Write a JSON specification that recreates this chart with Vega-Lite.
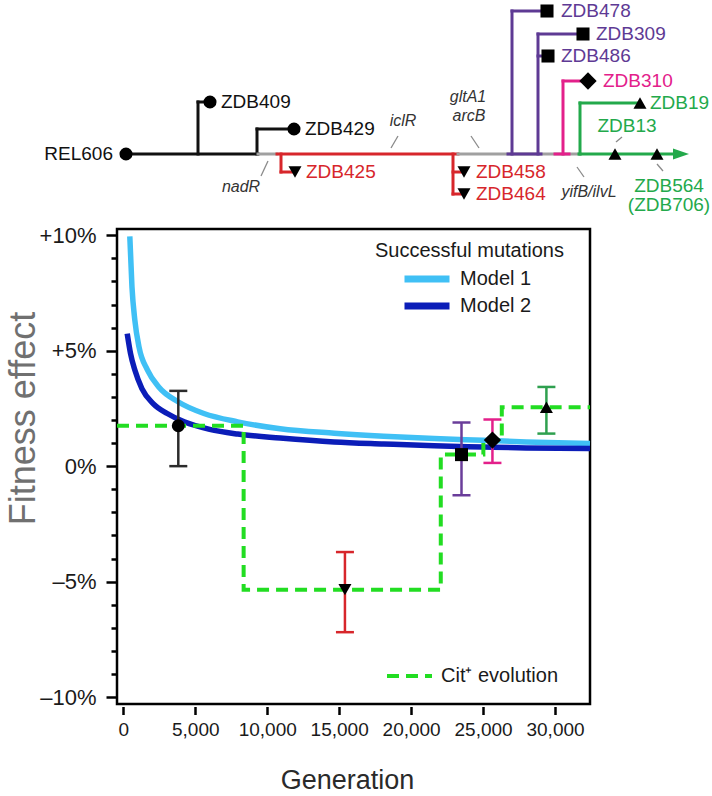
{
  "$schema": "https://vega.github.io/schema/vega-lite/v6.json",
  "padding": {"left": 3, "top": 0, "right": 0, "bottom": 0},
  "config": {
    "font": "Liberation Sans",
    "view": {"stroke": null},
    "legend": {"labelFont": "Liberation Sans", "titleFont": "Liberation Sans", "labelColor": "#1a1a1a", "titleColor": "#1a1a1a"}
  },
  "datasets": {
    "segments": [
      {"lin": "black", "x": 125, "y": 150, "x2": 257, "y2": 150},
      {"lin": "black", "x": 197, "y": 150, "x2": 197, "y2": 98},
      {"lin": "black", "x": 197, "y": 98, "x2": 209, "y2": 98},
      {"lin": "black", "x": 256, "y": 150, "x2": 256, "y2": 125},
      {"lin": "black", "x": 256, "y": 125, "x2": 293, "y2": 125},
      {"lin": "gray", "x": 257, "y": 150, "x2": 276, "y2": 150},
      {"lin": "red", "x": 276, "y": 150, "x2": 457, "y2": 150},
      {"lin": "red", "x": 280, "y": 150, "x2": 280, "y2": 168},
      {"lin": "red", "x": 280, "y": 168, "x2": 292, "y2": 168},
      {"lin": "red", "x": 452, "y": 150, "x2": 452, "y2": 190},
      {"lin": "red", "x": 452, "y": 168, "x2": 461, "y2": 168},
      {"lin": "red", "x": 452, "y": 190, "x2": 461, "y2": 190},
      {"lin": "gray", "x": 457, "y": 150, "x2": 579, "y2": 150},
      {"lin": "purple", "x": 507, "y": 150, "x2": 540, "y2": 150},
      {"lin": "purple", "x": 511, "y": 150, "x2": 511, "y2": 7},
      {"lin": "purple", "x": 511, "y": 7, "x2": 545, "y2": 7},
      {"lin": "purple", "x": 537, "y": 150, "x2": 537, "y2": 30},
      {"lin": "purple", "x": 537, "y": 30, "x2": 582, "y2": 30},
      {"lin": "purple", "x": 537, "y": 52, "x2": 546, "y2": 52},
      {"lin": "pink", "x": 554, "y": 150, "x2": 568, "y2": 150},
      {"lin": "pink", "x": 562, "y": 150, "x2": 562, "y2": 77},
      {"lin": "pink", "x": 562, "y": 77, "x2": 585, "y2": 77},
      {"lin": "green", "x": 578, "y": 150, "x2": 676, "y2": 150},
      {"lin": "green", "x": 579, "y": 150, "x2": 579, "y2": 99},
      {"lin": "green", "x": 579, "y": 99, "x2": 639, "y2": 99}
    ],
    "geneTicks": [
      {"x": 260, "y": 172, "x2": 267, "y2": 157},
      {"x": 390, "y": 144, "x2": 397, "y2": 132},
      {"x": 470, "y": 132, "x2": 478, "y2": 144},
      {"x": 576, "y": 163, "x2": 583, "y2": 173},
      {"x": 615, "y": 138, "x2": 621, "y2": 133},
      {"x": 656, "y": 160, "x2": 662, "y2": 167}
    ],
    "nodes": [
      {"name": "REL606", "clade": "A", "x": 125, "y": 150},
      {"name": "ZDB409", "clade": "A", "x": 209, "y": 98},
      {"name": "ZDB429", "clade": "A", "x": 293, "y": 125},
      {"name": "ZDB425", "clade": "B", "x": 294, "y": 168},
      {"name": "ZDB458", "clade": "B", "x": 463, "y": 168},
      {"name": "ZDB464", "clade": "B", "x": 463, "y": 190},
      {"name": "ZDB478", "clade": "C", "x": 546, "y": 7},
      {"name": "ZDB309", "clade": "C", "x": 582, "y": 30},
      {"name": "ZDB486", "clade": "C", "x": 547, "y": 52},
      {"name": "ZDB310", "clade": "D", "x": 587, "y": 77},
      {"name": "ZDB19", "clade": "E", "x": 639, "y": 99},
      {"name": "ZDB13", "clade": "E", "x": 614, "y": 150},
      {"name": "ZDB564", "clade": "E", "x": 656, "y": 150}
    ],
    "arrow": [{"x": 680, "y": 150}],
    "labelsLeft": [
      {"text": "ZDB409", "lin": "black", "x": 220, "y": 98},
      {"text": "ZDB429", "lin": "black", "x": 304, "y": 125},
      {"text": "ZDB425", "lin": "red", "x": 305, "y": 168},
      {"text": "ZDB458", "lin": "red", "x": 475, "y": 168},
      {"text": "ZDB464", "lin": "red", "x": 475, "y": 190},
      {"text": "ZDB478", "lin": "purple", "x": 560, "y": 7},
      {"text": "ZDB309", "lin": "purple", "x": 595, "y": 30},
      {"text": "ZDB486", "lin": "purple", "x": 560, "y": 52},
      {"text": "ZDB310", "lin": "pink", "x": 602, "y": 77},
      {"text": "ZDB19", "lin": "green", "x": 649, "y": 99}
    ],
    "labelsCenter": [
      {"text": "ZDB13", "lin": "green", "x": 626, "y": 122},
      {"text": "ZDB564", "lin": "green", "x": 668, "y": 182},
      {"text": "(ZDB706)", "lin": "green", "x": 668, "y": 201}
    ],
    "labelsRight": [
      {"text": "REL606", "lin": "black", "x": 112, "y": 150}
    ],
    "genes": [
      {"text": "nadR", "x": 240, "y": 183},
      {"text": "iclR", "x": 402, "y": 117},
      {"text": "gltA1", "x": 467, "y": 93},
      {"text": "arcB", "x": 468, "y": 112},
      {"text": "yifB/ilvL", "x": 588, "y": 188}
    ],
    "models": [
      {"model": "Model 1", "gen": 450, "eff": 9.95},
      {"model": "Model 1", "gen": 600, "eff": 7.76},
      {"model": "Model 1", "gen": 800, "eff": 6.32},
      {"model": "Model 1", "gen": 1090, "eff": 5.16},
      {"model": "Model 1", "gen": 1680, "eff": 4.16},
      {"model": "Model 1", "gen": 2460, "eff": 3.43},
      {"model": "Model 1", "gen": 3830, "eff": 2.78},
      {"model": "Model 1", "gen": 5600, "eff": 2.28},
      {"model": "Model 1", "gen": 7950, "eff": 1.92},
      {"model": "Model 1", "gen": 10900, "eff": 1.62},
      {"model": "Model 1", "gen": 14650, "eff": 1.43},
      {"model": "Model 1", "gen": 18100, "eff": 1.3},
      {"model": "Model 1", "gen": 21600, "eff": 1.2},
      {"model": "Model 1", "gen": 25000, "eff": 1.12},
      {"model": "Model 1", "gen": 28000, "eff": 1.05},
      {"model": "Model 1", "gen": 32430, "eff": 0.98},
      {"model": "Model 2", "gen": 270, "eff": 5.74},
      {"model": "Model 2", "gen": 500, "eff": 4.88},
      {"model": "Model 2", "gen": 800, "eff": 4.16},
      {"model": "Model 2", "gen": 1290, "eff": 3.36},
      {"model": "Model 2", "gen": 2070, "eff": 2.71},
      {"model": "Model 2", "gen": 3050, "eff": 2.28},
      {"model": "Model 2", "gen": 4230, "eff": 1.92},
      {"model": "Model 2", "gen": 6000, "eff": 1.59},
      {"model": "Model 2", "gen": 7950, "eff": 1.39},
      {"model": "Model 2", "gen": 10900, "eff": 1.22},
      {"model": "Model 2", "gen": 14650, "eff": 1.05},
      {"model": "Model 2", "gen": 18100, "eff": 0.96},
      {"model": "Model 2", "gen": 21600, "eff": 0.88},
      {"model": "Model 2", "gen": 25000, "eff": 0.83},
      {"model": "Model 2", "gen": 28000, "eff": 0.79},
      {"model": "Model 2", "gen": 32430, "eff": 0.76}
    ],
    "cit": [
      {"series": "Cit+ evolution", "gen": -440, "eff": 1.75},
      {"series": "Cit+ evolution", "gen": 8360, "eff": -5.35},
      {"series": "Cit+ evolution", "gen": 22060, "eff": 0.5},
      {"series": "Cit+ evolution", "gen": 25020, "eff": 1.13},
      {"series": "Cit+ evolution", "gen": 26300, "eff": 2.55},
      {"series": "Cit+ evolution", "gen": 32430, "eff": 2.55}
    ],
    "points": [
      {"clade": "A", "gen": 3820, "eff": 1.75, "lo": 0.0, "hi": 3.26},
      {"clade": "B", "gen": 15400, "eff": -5.35, "lo": -7.19, "hi": -3.72},
      {"clade": "C", "gen": 23500, "eff": 0.5, "lo": -1.26, "hi": 1.89},
      {"clade": "D", "gen": 25650, "eff": 1.13, "lo": 0.14, "hi": 2.02},
      {"clade": "E", "gen": 29400, "eff": 2.55, "lo": 1.41, "hi": 3.43}
    ]
  },
  "spacing": 10,
  "bounds": "flush",
  "resolve": {
    "scale": {"x": "independent", "y": "independent", "color": "independent", "stroke": "independent", "shape": "independent", "size": "independent", "strokeDash": "independent"},
    "legend": {"color": "independent", "strokeDash": "independent", "stroke": "independent", "shape": "independent", "size": "independent"}
  },
  "vconcat": [
    {
      "width": 473,
      "height": 219,
      "view": {"stroke": null},
      "encoding": {
        "x": {"field": "x", "type": "quantitative", "scale": {"domain": [116, 589], "nice": false, "zero": false}, "axis": null},
        "y": {"field": "y", "type": "quantitative", "scale": {"domain": [-4, 215], "nice": false, "zero": false, "reverse": true}, "axis": null}
      },
      "layer": [
        {
          "data": {"name": "geneTicks"},
          "mark": {"type": "rule", "stroke": "#8a8a8a", "strokeWidth": 1.3},
          "encoding": {"x2": {"field": "x2"}, "y2": {"field": "y2"}}
        },
        {
          "data": {"name": "segments"},
          "mark": {"type": "rule", "strokeWidth": 3, "strokeCap": "square"},
          "encoding": {
            "x2": {"field": "x2"},
            "y2": {"field": "y2"},
            "stroke": {"field": "lin", "type": "nominal", "legend": null,
              "scale": {"domain": ["black", "gray", "red", "purple", "pink", "green"], "range": ["#111111", "#a0a0a0", "#D7262B", "#5E3A94", "#E3208A", "#23A94B"]}}
          }
        },
        {
          "data": {"name": "nodes"},
          "transform": [{"filter": "datum.clade !== 'D'"}],
          "mark": {"type": "point", "filled": true, "color": "#000000", "opacity": 1, "size": 170},
          "encoding": {
            "shape": {"field": "clade", "type": "nominal", "legend": null,
              "scale": {"domain": ["A", "B", "C", "D", "E"], "range": ["circle", "triangle-down", "square", "diamond", "triangle-up"]}}
          }
        },
        {
          "data": {"name": "nodes"},
          "transform": [{"filter": "datum.clade === 'D'"}],
          "mark": {"type": "point", "filled": true, "color": "#000000", "opacity": 1, "shape": "diamond", "size": 300}
        },
        {
          "data": {"name": "arrow"},
          "mark": {"type": "point", "filled": true, "color": "#23A94B", "opacity": 1, "shape": "M-1,-0.7L1,0L-1,0.7Z", "size": 256}
        },
        {
          "data": {"name": "labelsLeft"},
          "mark": {"type": "text", "align": "left", "baseline": "middle", "fontSize": 19, "font": "Liberation Sans"},
          "encoding": {
            "text": {"field": "text"},
            "color": {"field": "lin", "type": "nominal", "legend": null,
              "scale": {"domain": ["black", "red", "purple", "pink", "green"], "range": ["#111111", "#D7262B", "#5E3A94", "#E3208A", "#23A94B"]}}
          }
        },
        {
          "data": {"name": "labelsCenter"},
          "mark": {"type": "text", "align": "center", "baseline": "middle", "fontSize": 19, "font": "Liberation Sans"},
          "encoding": {
            "text": {"field": "text"},
            "color": {"field": "lin", "type": "nominal", "legend": null}
          }
        },
        {
          "data": {"name": "labelsRight"},
          "mark": {"type": "text", "align": "right", "baseline": "middle", "fontSize": 19, "font": "Liberation Sans"},
          "encoding": {
            "text": {"field": "text"},
            "color": {"field": "lin", "type": "nominal", "legend": null}
          }
        },
        {
          "data": {"name": "genes"},
          "mark": {"type": "text", "align": "center", "baseline": "middle", "fontSize": 16, "fontStyle": "italic", "color": "#333333", "font": "Liberation Sans"},
          "encoding": {"text": {"field": "text"}}
        }
      ]
    },
    {
      "width": 473,
      "height": 475,
      "view": {"stroke": "#000000", "strokeWidth": 2.5},
      "encoding": {
        "x": {"field": "gen", "type": "quantitative",
          "scale": {"domain": [-440, 32430], "nice": false, "zero": false},
          "axis": {"title": "Generation", "values": [0, 5000, 10000, 15000, 20000, 25000, 30000], "format": ",d",
            "domain": false, "grid": false, "offset": 2.5, "tickSize": 8, "tickWidth": 2.5, "tickColor": "#000000",
            "labelFontSize": 19, "labelColor": "#1a1a1a", "labelPadding": 6, "labelFont": "Liberation Sans",
            "titleFontSize": 27, "titleFontWeight": "normal", "titleColor": "#2a2a2a", "titlePadding": 28, "titleFont": "Liberation Sans", "titleX": 230}
        },
        "y": {"field": "eff", "type": "quantitative",
          "scale": {"domain": [-10.3, 10.27], "nice": false, "zero": false},
          "axis": {"title": "Fitness effect", "values": [-10, -9, -8, -7, -6, -5, -4, -3, -2, -1, 0, 1, 2, 3, 4, 5, 6, 7, 8, 9, 10],
            "labelExpr": "datum.value % 5 === 0 ? (datum.value > 0 ? '+' + datum.value + '%' : (datum.value < 0 ? '–' + abs(datum.value) + '%' : '0%')) : ''",
            "domain": false, "grid": false, "offset": 0,
            "tickSize": {"condition": {"test": "datum.value % 5 === 0", "value": 11}, "value": 6},
            "tickWidth": 2.5, "tickColor": "#000000",
            "labelFontSize": 22, "labelColor": "#1a1a1a", "labelPadding": 10, "labelFont": "Liberation Sans",
            "titleFontSize": 36, "titleFontWeight": "normal", "titleColor": "#707070", "titleFont": "Liberation Sans",
            "titleX": -83, "titleY": 189, "titleBaseline": "alphabetic", "titleAngle": -90, "titleAlign": "center"}
        }
      },
      "layer": [
        {
          "mark": {"type": "rule", "strokeDash": [2.5, 3.5], "strokeWidth": 2.5, "color": "#000000"},
          "encoding": {"y": {"datum": 0}, "x": null}
        },
        {
          "data": {"name": "models"},
          "mark": {"type": "line", "strokeWidth": 5.5, "interpolate": "monotone"},
          "encoding": {
            "color": {"field": "model", "type": "nominal",
              "scale": {"domain": ["Model 1", "Model 2"], "range": ["#40C0F5", "#0B1DB8"]},
              "legend": {"title": "Successful mutations", "orient": "none", "legendX": 258, "legendY": 12,
                "symbolType": "stroke", "symbolSize": 2025, "symbolStrokeWidth": 7, "clipHeight": 20, "rowPadding": 7,
                "labelFontSize": 20, "titleFontSize": 20, "titleFontWeight": "normal", "titleLimit": 400, "labelOffset": 7, "symbolOffset": 26,
                "titlePadding": 8, "padding": 0}
            }
          }
        },
        {
          "data": {"name": "cit"},
          "mark": {"type": "line", "strokeWidth": 4, "interpolate": "step-after", "color": "#22DD22"},
          "encoding": {
            "strokeDash": {"field": "series", "type": "nominal",
              "scale": {"domain": ["Cit+ evolution"], "range": [[12, 7]]},
              "legend": {"title": null, "orient": "none", "legendX": 268, "legendY": 437,
                "symbolType": "stroke", "symbolSize": 2025, "symbolStrokeWidth": 4, "symbolStrokeColor": "#22DD22",
                "clipHeight": 20, "labelFontSize": 20, "labelOffset": 7, "padding": 0,
                "labelExpr": "'Cit⁺ evolution'"}
            }
          }
        },
        {
          "data": {"name": "points"},
          "mark": {"type": "rule", "strokeWidth": 2.5},
          "encoding": {
            "y": {"field": "lo", "type": "quantitative"},
            "y2": {"field": "hi"},
            "stroke": {"field": "clade", "type": "nominal", "legend": null,
              "scale": {"domain": ["A", "B", "C", "D", "E"], "range": ["#2b2b2b", "#D7262B", "#6A3D9A", "#E3208A", "#2FA04F"]}}
          }
        },
        {
          "data": {"name": "points"},
          "mark": {"type": "rule", "strokeWidth": 2.5, "xOffset": -9, "x2Offset": 9},
          "encoding": {
            "x2": {"field": "gen"},
            "y": {"field": "lo", "type": "quantitative"},
            "stroke": {"field": "clade", "type": "nominal", "legend": null}
          }
        },
        {
          "data": {"name": "points"},
          "mark": {"type": "rule", "strokeWidth": 2.5, "xOffset": -9, "x2Offset": 9},
          "encoding": {
            "x2": {"field": "gen"},
            "y": {"field": "hi", "type": "quantitative"},
            "stroke": {"field": "clade", "type": "nominal", "legend": null}
          }
        },
        {
          "data": {"name": "points"},
          "transform": [{"filter": "datum.clade !== 'D'"}],
          "mark": {"type": "point", "filled": true, "color": "#000000", "opacity": 1, "size": 170},
          "encoding": {
            "shape": {"field": "clade", "type": "nominal", "legend": null,
              "scale": {"domain": ["A", "B", "C", "D", "E"], "range": ["circle", "triangle-down", "square", "diamond", "triangle-up"]}}
          }
        },
        {
          "data": {"name": "points"},
          "transform": [{"filter": "datum.clade === 'D'"}],
          "mark": {"type": "point", "filled": true, "color": "#000000", "opacity": 1, "shape": "diamond", "size": 300}
        }
      ]
    }
  ]
}
